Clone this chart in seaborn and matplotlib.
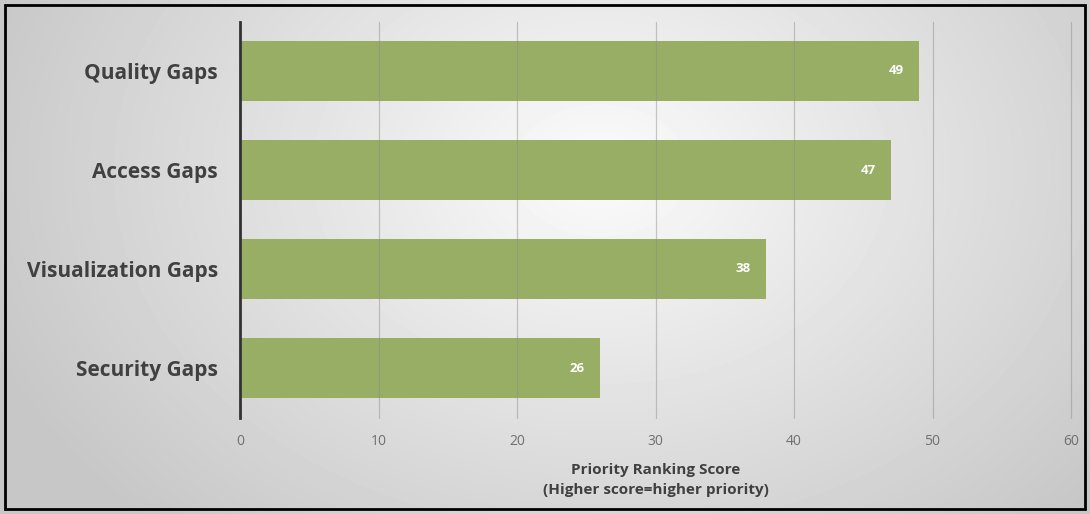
import numpy as np
import pandas as pd
import matplotlib
matplotlib.use("Agg")
import matplotlib.pyplot as plt
import seaborn as sns
from matplotlib.patches import Rectangle

categories = ["Quality Gaps", "Access Gaps", "Visualization Gaps", "Security Gaps"]
scores = [49, 47, 38, 26]
x_ticks = [0, 10, 20, 30, 40, 50, 60]
x_label = "Priority Ranking Score\n(Higher score=higher priority)"

sns.set_theme(style="white")
plt.rcParams["font.family"] = ["Open Sans", "DejaVu Sans"]

df = pd.DataFrame({"category": categories, "score": scores})

fig = plt.figure(figsize=(10.9, 5.14), dpi=100)

# radial gray background
bg = fig.add_axes([0, 0, 1, 1], zorder=0)
yy, xx = np.mgrid[0:514, 0:1090]
r = np.sqrt(((xx - 600) / 700.0) ** 2 + ((yy - 170) / 520.0) ** 2)
shade = np.clip(0.985 - 0.22 * r, 0.78, 1.0)
bg.imshow(shade, cmap="gray", vmin=0, vmax=1, aspect="auto", extent=[0, 1, 0, 1])
bg.set_axis_off()
fig.patches.append(Rectangle((0.005, 0.01), 0.99, 0.98, transform=fig.transFigure,
                             fill=False, edgecolor="black", linewidth=2, zorder=10))

ax = fig.add_axes([240 / 1090, 1 - 417.5 / 514, (1071 - 240) / 1090, 396 / 514], zorder=1)
ax.patch.set_alpha(0)
sns.barplot(data=df, y="category", x="score", color="#98ae64", saturation=1,
            width=0.6, ax=ax, zorder=2, linewidth=0)

ax.set_xlim(0, 60)
ax.set_xticks(x_ticks)
ax.set_xticklabels([str(t) for t in x_ticks], color="#6f6f6f", fontsize=10)
ax.tick_params(axis="x", length=0, pad=12)
ax.tick_params(axis="y", length=0, pad=16)
for lbl in ax.get_yticklabels():
    lbl.set_fontsize(15)
    lbl.set_fontweight("bold")
    lbl.set_color("#404040")
ax.xaxis.grid(True, color="#8a8a8a", linewidth=0.9)
ax.set_axisbelow(False)
for line in ax.get_xgridlines():
    line.set_alpha(0.45)
    line.set_clip_on(False)
ax.set_ylabel("")
ax.set_xlabel(x_label, fontsize=11, fontweight="bold", color="#404040",
              linespacing=1.5, labelpad=10)
for s in ["top", "right", "bottom"]:
    ax.spines[s].set_visible(False)
ax.spines["left"].set_color("#333333")
ax.spines["left"].set_linewidth(2)
ax.spines["left"].set_zorder(5)

for i, v in enumerate(scores):
    ax.text(v - 1.1, i, str(v), color="white", fontsize=9.5, fontweight="bold",
            ha="right", va="center", zorder=6)

fig.savefig("out.png", dpi=100)
